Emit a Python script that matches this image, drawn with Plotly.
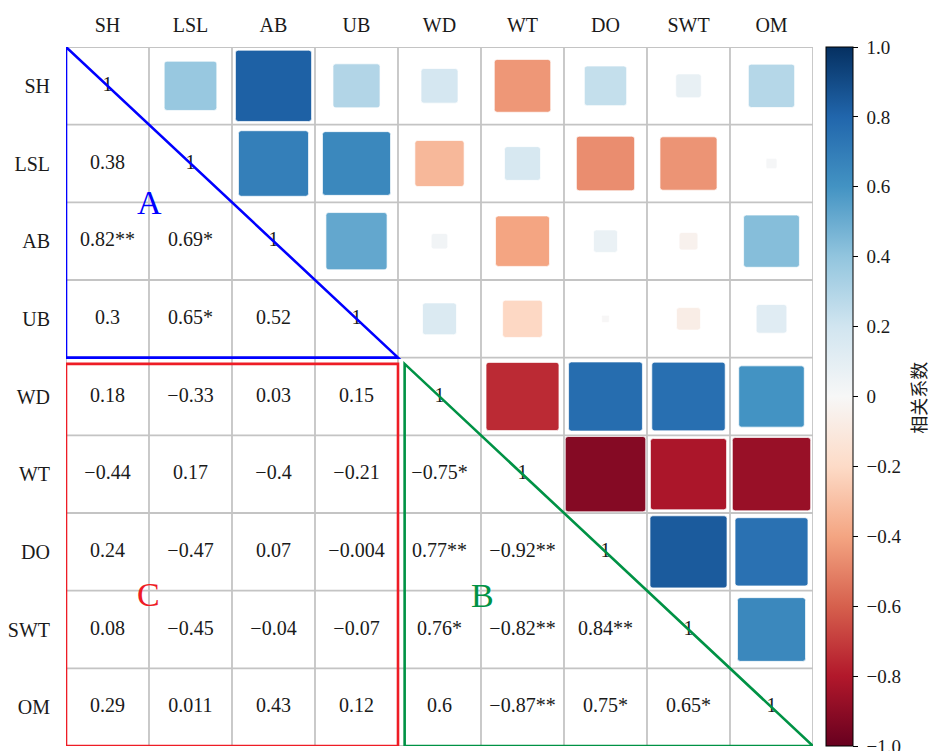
import numpy as np
import plotly.graph_objects as go
import plotly.colors as pc

variables = ["SH", "LSL", "AB", "UB", "WD", "WT", "DO", "SWT", "OM"]

# Lower-triangle correlation coefficients, one list per row (columns 0..i-1)
r_SH = []
r_LSL = [0.38]
r_AB = [0.82, 0.69]
r_UB = [0.3, 0.65, 0.52]
r_WD = [0.18, -0.33, 0.03, 0.15]
r_WT = [-0.44, 0.17, -0.4, -0.21, -0.75]
r_DO = [0.24, -0.47, 0.07, -0.004, 0.77, -0.92]
r_SWT = [0.08, -0.45, -0.04, -0.07, 0.76, -0.82, 0.84]
r_OM = [0.29, 0.011, 0.43, 0.12, 0.6, -0.87, 0.75, 0.65]

# Significance marks for the same cells
s_SH = []
s_LSL = [""]
s_AB = ["**", "*"]
s_UB = ["", "*", ""]
s_WD = ["", "", "", ""]
s_WT = ["", "", "", "", "*"]
s_DO = ["", "", "", "", "**", "**"]
s_SWT = ["", "", "", "", "*", "**", "**"]
s_OM = ["", "", "", "", "", "**", "*", "*"]

cbar_ticks = [1.0, 0.8, 0.6, 0.4, 0.2, 0, -0.2, -0.4, -0.6, -0.8, -1.0]
cbar_labels = ["1.0", "0.8", "0.6", "0.4", "0.2", "0", "\u22120.2", "\u22120.4",
               "\u22120.6", "\u22120.8", "\u22121.0"]

rows_r = [r_SH, r_LSL, r_AB, r_UB, r_WD, r_WT, r_DO, r_SWT, r_OM]
rows_s = [s_SH, s_LSL, s_AB, s_UB, s_WD, s_WT, s_DO, s_SWT, s_OM]

n = len(variables)
R = np.eye(n)
STARS = [["" for _ in range(n)] for _ in range(n)]
for i, (vals, stars) in enumerate(zip(rows_r, rows_s)):
    for j, (v, s) in enumerate(zip(vals, stars)):
        R[i, j] = R[j, i] = v
        STARS[i][j] = s

RDBU = pc.sequential.RdBu  # red (-1) -> blue (+1)
SERIF = "Liberation Serif, Times New Roman, serif"
TXT = "#1a1a1a"
GRID = "#c4c4c4"


def fmt(v):
    return f"{v:g}".replace("-", "\u2212")


fig = go.Figure()
shapes = []

# cell grid
for k in range(n + 1):
    b = k - 0.5
    shapes.append(dict(type="line", x0=b, x1=b, y0=-0.5, y1=n - 0.5, xref="x", yref="y",
                       line=dict(color=GRID, width=1.8), layer="below"))
    shapes.append(dict(type="line", x0=-0.5, x1=n - 0.5, y0=b, y1=b, xref="x", yref="y",
                       line=dict(color=GRID, width=1.8), layer="below"))


def rounded_rect(cx, cy, hw, hh, rx, ry):
    x0, x1, y0, y1 = cx - hw, cx + hw, cy - hh, cy + hh
    return (f"M {x0 + rx},{y0} L {x1 - rx},{y0} Q {x1},{y0} {x1},{y0 + ry} "
            f"L {x1},{y1 - ry} Q {x1},{y1} {x1 - rx},{y1} L {x0 + rx},{y1} "
            f"Q {x0},{y1} {x0},{y1 - ry} L {x0},{y0 + ry} Q {x0},{y0} {x0 + rx},{y0} Z")


# upper triangle: squares whose area follows |r|
for i in range(n):
    for j in range(i + 1, n):
        v = R[i, j]
        side = min(0.97, 0.03 + 0.98 * np.sqrt(abs(v)))
        col = pc.sample_colorscale(RDBU, [(v + 1) / 2])[0]
        hw = hh = side / 2
        rr = min(0.035, hw * 0.3)
        shapes.append(dict(type="path", path=rounded_rect(j, i, hw, hh, rr, rr),
                           xref="x", yref="y", fillcolor=col,
                           line=dict(color="rgba(255,255,255,0.7)", width=1),
                           layer="above"))

# lower triangle and diagonal: coefficient labels
tx, ty, tt = [], [], []
for i in range(n):
    for j in range(i + 1):
        tx.append(j)
        ty.append(i)
        tt.append("1" if i == j else fmt(R[i, j]) + STARS[i][j])

fig.add_trace(go.Scatter(x=tx, y=ty, text=tt, mode="text",
                         textfont=dict(family=SERIF, size=20, color=TXT),
                         hoverinfo="skip", showlegend=False))

# colour scale reference
up_i, up_j = np.triu_indices(n, 1)
fig.add_trace(go.Scatter(
    x=up_j, y=up_i, mode="markers", hoverinfo="skip", showlegend=False,
    marker=dict(size=1, opacity=0, color=R[up_i, up_j], colorscale=RDBU,
                cmin=-1, cmax=1, showscale=True,
                colorbar=dict(x=1.0174, xanchor="left", xpad=0, y=0.5, yanchor="middle",
                              ypad=0, len=1, lenmode="fraction", thickness=27,
                              outlinewidth=1, outlinecolor="black",
                              ticks="outside", ticklen=5, tickwidth=1, tickcolor="black",
                              tickvals=cbar_ticks,
                              ticktext=["\u00a0" + t for t in cbar_labels],
                              ticklabeloverflow="allow",
                              tickfont=dict(family=SERIF, size=19, color=TXT)))))

# group outlines
gA = 3          # last index of the first variable group
ins = 0.08      # gap between neighbouring outlines
shapes.append(dict(type="path", xref="x", yref="y", layer="above",
                   path=f"M -0.5,-0.5 L -0.5,{gA + 0.5} L {gA + 0.5},{gA + 0.5} Z",
                   line=dict(color="#0000ff", width=2.6)))
shapes.append(dict(type="rect", xref="x", yref="y", layer="above",
                   x0=-0.5, x1=gA + 0.5, y0=gA + 0.5 + ins, y1=n - 0.5,
                   line=dict(color="#ee1c25", width=2.6)))
b0 = gA + 0.5 + ins
shapes.append(dict(type="path", xref="x", yref="y", layer="above",
                   path=f"M {b0},{b0} L {b0},{n - 0.5} L {n - 0.5},{n - 0.5} Z",
                   line=dict(color="#009245", width=2.6)))

annotations = [
    dict(x=0.5, y=1.5, text="A", showarrow=False, xref="x", yref="y",
         font=dict(family=SERIF, size=34, color="#0000ff")),
    dict(x=4.52, y=6.56, text="B", showarrow=False, xref="x", yref="y",
         font=dict(family=SERIF, size=34, color="#009245")),
    dict(x=0.49, y=6.55, text="C", showarrow=False, xref="x", yref="y",
         font=dict(family=SERIF, size=34, color="#ee1c25")),
    dict(x=1.1405, y=0.498, xref="paper", yref="paper", text="相关系数", showarrow=False,
         xanchor="center", yanchor="middle", textangle=-90, borderpad=0,
         font=dict(family="Noto Sans CJK SC", size=18, color=TXT)),
]

fig.update_layout(
    width=931, height=751,
    margin=dict(l=66, r=118, t=47, b=5),
    paper_bgcolor="white", plot_bgcolor="white",
    shapes=shapes, annotations=annotations,
    xaxis=dict(side="top", range=[-0.5, n - 0.5], tickvals=list(range(n)), ticktext=variables,
               showgrid=False, zeroline=False, showline=False, ticks="",
               tickfont=dict(family=SERIF, size=20, color=TXT), ticklabelstandoff=10,
               fixedrange=True),
    yaxis=dict(range=[n - 0.5, -0.5], tickvals=list(range(n)), ticktext=variables,
               showgrid=False, zeroline=False, showline=False, ticks="",
               tickfont=dict(family=SERIF, size=20, color=TXT), ticklabelstandoff=15,
               fixedrange=True),
)

fig.write_html("out.html")
